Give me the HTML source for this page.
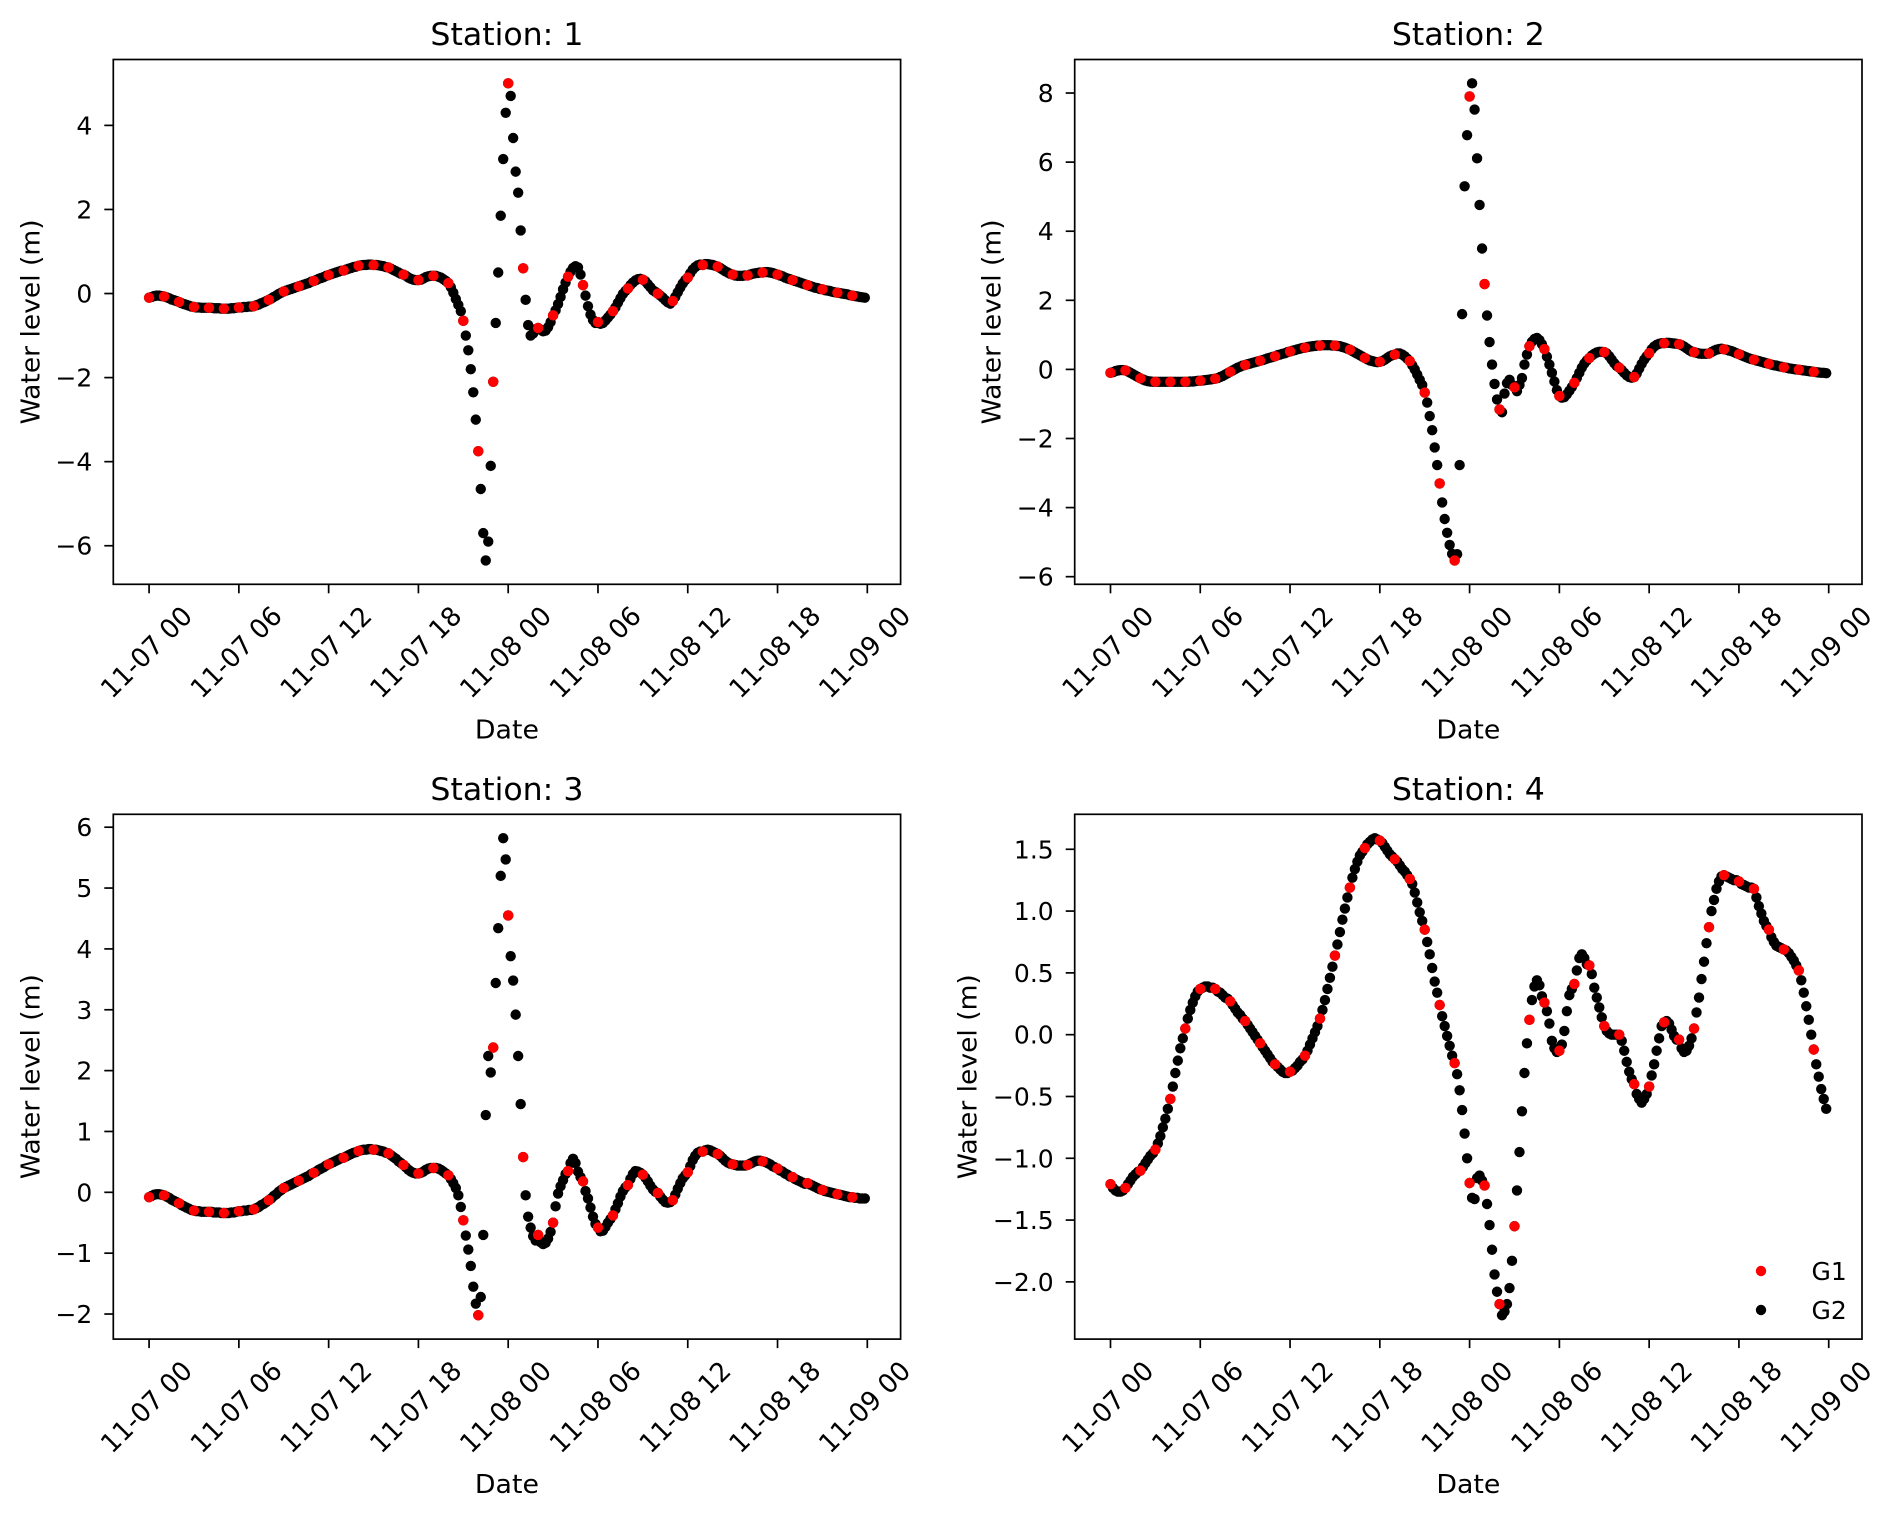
<!DOCTYPE html>
<html>
<head>
<meta charset="utf-8">
<style>
html,body{margin:0;padding:0;background:#fff;}
svg{display:block;}
text{font-family:"DejaVu Sans","Liberation Sans",sans-serif;fill:#000;}
</style>
</head>
<body>
<svg id="fig" xmlns="http://www.w3.org/2000/svg" width="1892" height="1513" viewBox="0 0 1892 1513">
<rect x="0" y="0" width="1892" height="1513" fill="#fff"/>
</svg>
<script>
// ---- shared axis data ----
const xTickHours = [0, 6, 12, 18, 24, 30, 36, 42, 48];
const xTickLabels = ['11-07 00','11-07 06','11-07 12','11-07 18','11-08 00','11-08 06','11-08 12','11-08 18','11-09 00'];
const g2StepHours = 1/6;
const g1StepHours = 1;

// ---- Station 1 ----
const s1G2 = [
-0.10,-0.08,-0.06,-0.05,-0.05,-0.06,
-0.07,-0.09,-0.11,-0.14,-0.16,-0.18,
-0.20,-0.23,-0.25,-0.27,-0.29,-0.31,
-0.32,-0.33,-0.33,-0.34,-0.34,-0.34,
-0.34,-0.34,-0.35,-0.35,-0.35,-0.36,
-0.36,-0.36,-0.36,-0.35,-0.35,-0.34,
-0.33,-0.33,-0.32,-0.32,-0.31,-0.31,
-0.30,-0.28,-0.26,-0.23,-0.21,-0.18,
-0.15,-0.12,-0.08,-0.05,-0.01,0.02,
0.05,0.07,0.09,0.11,0.13,0.15,
0.17,0.19,0.21,0.23,0.25,0.28,
0.30,0.32,0.35,0.37,0.39,0.42,
0.44,0.46,0.48,0.50,0.52,0.54,
0.55,0.57,0.59,0.61,0.63,0.64,
0.66,0.67,0.68,0.68,0.69,0.69,
0.68,0.68,0.67,0.66,0.65,0.63,
0.62,0.59,0.56,0.53,0.50,0.47,
0.45,0.42,0.38,0.35,0.33,0.32,
0.32,0.33,0.36,0.39,0.41,0.42,
0.42,0.42,0.40,0.38,0.34,0.30,
0.25,0.15,0.02,-0.13,-0.27,-0.42,
-0.65,-1.00,-1.35,-1.80,-2.35,-3.00,
-3.75,-4.65,-5.70,-6.35,-5.90,-4.10,
-2.10,-0.70,0.50,1.85,3.20,4.30,
5.00,4.70,3.70,2.90,2.40,1.50,
0.60,-0.15,-0.75,-1.00,-0.95,-0.85,
-0.82,-0.86,-0.90,-0.88,-0.80,-0.68,
-0.52,-0.40,-0.25,-0.08,0.10,0.26,
0.40,0.52,0.61,0.65,0.62,0.45,
0.20,-0.05,-0.30,-0.50,-0.63,-0.70,
-0.68,-0.72,-0.70,-0.64,-0.57,-0.50,
-0.42,-0.33,-0.22,-0.11,-0.01,0.06,
0.12,0.20,0.26,0.31,0.34,0.35,
0.33,0.29,0.22,0.15,0.08,0.04,
0.00,-0.05,-0.10,-0.16,-0.21,-0.24,
-0.18,-0.08,0.03,0.14,0.24,0.32,
0.38,0.48,0.57,0.63,0.67,0.69,
0.68,0.70,0.70,0.69,0.68,0.66,
0.64,0.61,0.57,0.53,0.50,0.47,
0.45,0.43,0.42,0.42,0.42,0.43,
0.43,0.45,0.47,0.48,0.49,0.50,
0.50,0.51,0.51,0.50,0.49,0.47,
0.45,0.43,0.41,0.38,0.36,0.34,
0.32,0.30,0.28,0.26,0.24,0.22,
0.20,0.18,0.16,0.14,0.13,0.11,
0.10,0.08,0.07,0.06,0.04,0.03,
0.02,0.01,0.00,-0.01,-0.02,-0.04,
-0.05,-0.06,-0.07,-0.08,-0.09,-0.10];
const s1G1 = [-0.10,-0.07,-0.20,-0.32,-0.34,-0.36,-0.33,-0.30,-0.15,0.05,0.17,0.30,0.44,0.55,0.66,0.68,0.62,0.45,0.32,0.42,0.25,-0.65,-3.75,-2.10,5.00,0.60,-0.82,-0.52,0.40,0.20,-0.68,-0.42,0.12,0.33,0.00,-0.18,0.38,0.68,0.64,0.45,0.43,0.50,0.45,0.32,0.20,0.10,0.02,-0.05];
const s1YTicks = [-6, -4, -2, 0, 2, 4];

// ---- Station 2 ----
const s2G2 = [
-0.10,-0.08,-0.05,-0.03,-0.02,-0.02,
-0.03,-0.06,-0.10,-0.14,-0.18,-0.22,
-0.26,-0.29,-0.32,-0.34,-0.35,-0.36,
-0.36,-0.36,-0.36,-0.36,-0.36,-0.36,
-0.36,-0.36,-0.36,-0.36,-0.36,-0.36,
-0.36,-0.36,-0.35,-0.35,-0.34,-0.33,
-0.33,-0.32,-0.31,-0.30,-0.29,-0.28,
-0.27,-0.25,-0.22,-0.19,-0.15,-0.11,
-0.07,-0.03,0.01,0.05,0.08,0.11,
0.13,0.15,0.17,0.19,0.21,0.23,
0.25,0.27,0.29,0.32,0.34,0.36,
0.38,0.41,0.43,0.45,0.47,0.50,
0.52,0.54,0.56,0.58,0.60,0.62,
0.63,0.65,0.66,0.67,0.68,0.69,
0.69,0.70,0.70,0.70,0.70,0.69,
0.69,0.68,0.67,0.65,0.63,0.60,
0.57,0.53,0.49,0.45,0.41,0.37,
0.33,0.29,0.26,0.24,0.22,0.21,
0.22,0.24,0.28,0.33,0.38,0.41,
0.43,0.46,0.46,0.43,0.38,0.31,
0.24,0.12,0.00,-0.15,-0.30,-0.45,
-0.67,-0.96,-1.35,-1.76,-2.26,-2.77,
-3.30,-3.85,-4.33,-4.73,-5.08,-5.34,
-5.53,-5.35,-2.77,1.60,5.30,6.78,
7.90,8.28,7.52,6.11,4.76,3.50,
2.47,1.56,0.79,0.14,-0.42,-0.87,
-1.16,-1.24,-0.70,-0.40,-0.30,-0.45,
-0.52,-0.63,-0.45,-0.25,0.14,0.43,
0.67,0.80,0.88,0.91,0.85,0.73,
0.59,0.37,0.14,-0.10,-0.35,-0.60,
-0.77,-0.82,-0.80,-0.72,-0.62,-0.51,
-0.39,-0.25,-0.10,0.05,0.17,0.26,
0.33,0.40,0.45,0.49,0.51,0.51,
0.50,0.46,0.38,0.28,0.18,0.10,
0.05,-0.02,-0.10,-0.17,-0.22,-0.24,
-0.22,-0.12,0.02,0.16,0.28,0.38,
0.47,0.58,0.66,0.71,0.74,0.76,
0.76,0.77,0.77,0.76,0.75,0.74,
0.73,0.70,0.66,0.61,0.56,0.52,
0.50,0.48,0.46,0.45,0.45,0.45,
0.46,0.50,0.54,0.57,0.59,0.60,
0.58,0.57,0.55,0.53,0.50,0.47,
0.44,0.41,0.38,0.35,0.32,0.30,
0.28,0.26,0.24,0.22,0.20,0.18,
0.16,0.14,0.12,0.11,0.09,0.08,
0.06,0.05,0.03,0.02,0.01,0.00,
-0.01,-0.02,-0.03,-0.04,-0.05,-0.06,
-0.07,-0.08,-0.09,-0.10,-0.10,-0.11];
const s2G1 = [-0.10,-0.03,-0.26,-0.36,-0.36,-0.36,-0.33,-0.27,-0.07,0.13,0.25,0.38,0.52,0.63,0.69,0.69,0.57,0.33,0.22,0.43,0.24,-0.67,-3.30,-5.53,7.90,2.47,-1.16,-0.52,0.67,0.59,-0.77,-0.39,0.33,0.50,0.05,-0.22,0.47,0.76,0.73,0.50,0.46,0.58,0.44,0.28,0.16,0.06,-0.01,-0.07];
const s2YTicks = [-6, -4, -2, 0, 2, 4, 6, 8];

// ---- Station 3 ----
const s3G2 = [
-0.08,-0.06,-0.04,-0.03,-0.03,-0.04,
-0.05,-0.07,-0.09,-0.12,-0.14,-0.16,
-0.18,-0.21,-0.23,-0.25,-0.27,-0.29,
-0.30,-0.31,-0.31,-0.32,-0.32,-0.32,
-0.32,-0.32,-0.33,-0.33,-0.33,-0.34,
-0.34,-0.34,-0.34,-0.33,-0.33,-0.32,
-0.31,-0.31,-0.30,-0.30,-0.29,-0.29,
-0.28,-0.26,-0.24,-0.21,-0.19,-0.16,
-0.13,-0.10,-0.06,-0.03,0.01,0.04,
0.07,0.09,0.11,0.13,0.15,0.17,
0.19,0.21,0.23,0.25,0.27,0.30,
0.32,0.34,0.37,0.39,0.41,0.44,
0.46,0.48,0.50,0.52,0.54,0.56,
0.57,0.59,0.61,0.63,0.65,0.66,
0.68,0.69,0.70,0.70,0.71,0.71,
0.70,0.70,0.69,0.68,0.67,0.65,
0.64,0.61,0.58,0.55,0.51,0.48,
0.45,0.41,0.37,0.34,0.32,0.31,
0.31,0.32,0.34,0.37,0.39,0.40,
0.40,0.40,0.39,0.37,0.34,0.31,
0.28,0.22,0.15,0.07,-0.05,-0.24,
-0.46,-0.71,-0.94,-1.21,-1.55,-1.83,
-2.02,-1.72,-0.70,1.27,2.24,1.97,
2.38,3.44,4.34,5.20,5.82,5.47,
4.55,3.88,3.48,2.92,2.24,1.45,
0.58,-0.05,-0.40,-0.58,-0.72,-0.79,
-0.70,-0.82,-0.85,-0.83,-0.76,-0.65,
-0.50,-0.23,-0.02,0.10,0.20,0.30,
0.35,0.48,0.55,0.48,0.34,0.25,
0.18,0.02,-0.10,-0.25,-0.40,-0.52,
-0.58,-0.64,-0.63,-0.57,-0.50,-0.44,
-0.38,-0.28,-0.18,-0.07,0.02,0.08,
0.12,0.22,0.30,0.35,0.34,0.32,
0.29,0.24,0.18,0.11,0.05,0.01,
-0.01,-0.07,-0.12,-0.16,-0.17,-0.16,
-0.13,-0.04,0.06,0.15,0.23,0.28,
0.33,0.43,0.53,0.60,0.65,0.67,
0.67,0.69,0.70,0.69,0.67,0.65,
0.63,0.60,0.56,0.52,0.49,0.47,
0.46,0.45,0.44,0.44,0.44,0.44,
0.45,0.47,0.49,0.51,0.52,0.52,
0.51,0.50,0.48,0.46,0.43,0.41,
0.39,0.36,0.34,0.31,0.29,0.26,
0.25,0.22,0.20,0.18,0.16,0.14,
0.15,0.13,0.11,0.09,0.07,0.05,
0.04,0.02,0.01,0.00,-0.01,-0.02,
-0.03,-0.04,-0.05,-0.06,-0.07,-0.08,
-0.08,-0.09,-0.09,-0.10,-0.10,-0.10];
const s3G1 = [-0.08,-0.05,-0.18,-0.30,-0.32,-0.34,-0.31,-0.28,-0.13,0.07,0.19,0.32,0.46,0.57,0.68,0.70,0.64,0.45,0.31,0.40,0.28,-0.46,-2.02,2.38,4.55,0.58,-0.70,-0.50,0.35,0.18,-0.58,-0.38,0.12,0.29,-0.01,-0.13,0.33,0.67,0.63,0.46,0.45,0.51,0.39,0.25,0.15,0.04,-0.03,-0.08];
const s3YTicks = [-2, -1, 0, 1, 2, 3, 4, 5, 6];

// ---- Station 4 ----
const s4G2 = [
-1.21,-1.24,-1.26,-1.27,-1.27,-1.26,
-1.24,-1.21,-1.18,-1.15,-1.13,-1.11,
-1.10,-1.07,-1.04,-1.01,-0.98,-0.96,
-0.93,-0.88,-0.82,-0.75,-0.68,-0.60,
-0.52,-0.42,-0.31,-0.21,-0.11,-0.03,
0.05,0.13,0.20,0.26,0.31,0.35,
0.37,0.38,0.39,0.39,0.38,0.38,
0.37,0.35,0.34,0.32,0.30,0.29,
0.27,0.24,0.21,0.18,0.16,0.13,
0.11,0.08,0.05,0.02,-0.01,-0.04,
-0.07,-0.10,-0.13,-0.16,-0.19,-0.22,
-0.24,-0.26,-0.28,-0.30,-0.31,-0.31,
-0.30,-0.29,-0.27,-0.25,-0.22,-0.20,
-0.17,-0.13,-0.08,-0.03,0.02,0.07,
0.13,0.20,0.28,0.37,0.46,0.55,
0.64,0.73,0.83,0.93,1.02,1.11,
1.19,1.27,1.34,1.40,1.45,1.48,
1.51,1.54,1.56,1.58,1.59,1.58,
1.57,1.55,1.52,1.49,1.46,1.44,
1.42,1.40,1.37,1.34,1.32,1.29,
1.26,1.22,1.15,1.07,0.99,0.92,
0.85,0.75,0.65,0.54,0.43,0.34,
0.24,0.15,0.07,-0.01,-0.09,-0.17,
-0.23,-0.32,-0.45,-0.61,-0.80,-1.00,
-1.20,-1.32,-1.33,-1.16,-1.14,-1.18,
-1.22,-1.37,-1.54,-1.74,-1.94,-2.08,
-2.18,-2.27,-2.24,-2.18,-2.05,-1.83,
-1.55,-1.26,-0.95,-0.62,-0.31,-0.07,
0.12,0.28,0.39,0.44,0.40,0.31,
0.26,0.19,0.09,-0.05,-0.11,-0.14,
-0.13,-0.08,0.03,0.19,0.32,0.37,
0.41,0.52,0.62,0.65,0.62,0.57,
0.56,0.49,0.38,0.30,0.22,0.14,
0.07,0.03,0.01,0.00,0.00,0.00,
0.00,-0.05,-0.13,-0.22,-0.30,-0.36,
-0.40,-0.48,-0.52,-0.55,-0.52,-0.48,
-0.42,-0.33,-0.24,-0.13,-0.03,0.07,
0.10,0.11,0.09,0.04,-0.01,-0.04,
-0.04,-0.11,-0.14,-0.13,-0.09,-0.03,
0.05,0.18,0.30,0.45,0.59,0.74,
0.87,1.00,1.09,1.18,1.24,1.28,
1.29,1.28,1.27,1.26,1.25,1.25,
1.24,1.22,1.21,1.20,1.19,1.19,
1.18,1.11,1.04,0.98,0.92,0.88,
0.85,0.79,0.75,0.72,0.71,0.70,
0.69,0.68,0.66,0.63,0.60,0.56,
0.52,0.44,0.34,0.23,0.12,0.00,
-0.12,-0.24,-0.34,-0.44,-0.52,-0.60];
const s4G1 = [-1.21,-1.24,-1.10,-0.93,-0.52,0.05,0.37,0.37,0.27,0.11,-0.07,-0.24,-0.30,-0.17,0.13,0.64,1.19,1.51,1.57,1.42,1.26,0.85,0.24,-0.23,-1.20,-1.22,-2.18,-1.55,0.12,0.26,-0.13,0.41,0.56,0.07,0.00,-0.40,-0.42,0.10,-0.04,0.05,0.87,1.29,1.24,1.18,0.85,0.69,0.52,-0.12];
const s4YTicks = [-2.0, -1.5, -1.0, -0.5, 0.0, 0.5, 1.0, 1.5];

const legendLabels = ['G1', 'G2'];

// ---- drawing ----
const NS = 'http://www.w3.org/2000/svg';
const svg = document.getElementById('fig');
function mk(tag, attrs, parent) {
  const e = document.createElementNS(NS, tag);
  for (const k in attrs) e.setAttribute(k, attrs[k]);
  (parent || svg).appendChild(e);
  return e;
}
const AX_W = 787.3, AX_H = 524.8, R = 5.2;

function drawPanel(id, left, top, title, g1, g2, yTicks, decimals, withLegend, ylabOff) {
  const g = mk('g', {});
  
  

  const xMaxData = (g2.length - 1) * g2StepHours;
  const xLo = -0.05 * xMaxData, xHi = xMaxData * 1.05;
  const xs = h => left + (h - xLo) / (xHi - xLo) * AX_W;
  const all = g1.concat(g2);
  const mn = Math.min(...all), mx = Math.max(...all);
  const pad = (mx - mn) * 0.05;
  const yLo = mn - pad, yHi = mx + pad;
  const ys = v => top + AX_H - (v - yLo) / (yHi - yLo) * AX_H;
  const bottom = top + AX_H;

  const t = mk('text', {x: left + AX_W / 2, y: top - 14.5, 'text-anchor': 'middle', 'font-size': 31, textLength: 153, lengthAdjust: 'spacingAndGlyphs'}, g);
  t.textContent = title;
  
  

  const sG2 = mk('g', {}, g);
  
  
  g2.forEach((v, i) => {
    const c = mk('circle', {cx: xs(i * g2StepHours).toFixed(2), cy: ys(v).toFixed(2), r: R, fill: '#000'}, sG2);
    
    
  });
  const sG1 = mk('g', {}, g);
  
  
  g1.forEach((v, i) => {
    const c = mk('circle', {cx: xs(i * g1StepHours).toFixed(2), cy: ys(v).toFixed(2), r: R, fill: '#ff0000'}, sG1);
    
    
  });

  const fr = mk('rect', {x: left, y: top, width: AX_W, height: AX_H, fill: 'none', stroke: '#000', 'stroke-width': 1.7}, g);
  
  

  xTickHours.forEach((h, i) => {
    const x = xs(h);
    const tk = mk('line', {x1: x, y1: bottom, x2: x, y2: bottom + 9, stroke: '#000', 'stroke-width': 1.7}, g);
    
    
    const cx = x - 2.6, cy = bottom + 68;
    const lb = mk('text', {x: cx, y: cy + 9, 'text-anchor': 'middle', 'font-size': 26.5, textLength: 116, lengthAdjust: 'spacingAndGlyphs', transform: 'rotate(-45 ' + cx + ' ' + cy + ')'}, g);
    lb.textContent = xTickLabels[i];
    
    
  });
  yTicks.forEach(v => {
    const y = ys(v);
    const tk = mk('line', {x1: left - 9, y1: y, x2: left, y2: y, stroke: '#000', 'stroke-width': 1.7}, g);
    
    
    const s = (v < 0 ? '\u2212' : '') + Math.abs(v).toFixed(decimals);
    const lb = mk('text', {x: left - 21, y: y + 9, 'text-anchor': 'end', 'font-size': 25}, g);
    lb.textContent = s;
    
    
  });
  const xl = mk('text', {x: left + AX_W / 2, y: bottom + 154, 'text-anchor': 'middle', 'font-size': 26, textLength: 64, lengthAdjust: 'spacingAndGlyphs'}, g);
  xl.textContent = 'Date';
  
  
  const lx = left - ylabOff, ly = top + AX_H / 2;
  const yl = mk('text', {x: lx, y: ly, 'text-anchor': 'middle', 'font-size': 26, textLength: 205, lengthAdjust: 'spacingAndGlyphs', transform: 'rotate(-90 ' + lx + ' ' + ly + ')'}, g);
  yl.textContent = 'Water level (m)';
  
  

  if (withLegend) {
    const lg = mk('g', {}, g);
    
    
    const colors = ['#ff0000', '#000'];
    legendLabels.forEach((name, i) => {
      const yy = 1271 + i * 39;
      const c = mk('circle', {cx: 1761, cy: yy, r: R, fill: colors[i]}, lg);
      
      
      const tx = mk('text', {x: 1811.5, y: yy + 9, 'font-size': 25}, lg);
      tx.textContent = name;
      
      
    });
  }
}

drawPanel(1, 113.3, 59.5, 'Station: 1', s1G1, s1G2, s1YTicks, 0, false, 74);
drawPanel(2, 1074.7, 59.5, 'Station: 2', s2G1, s2G2, s2YTicks, 0, false, 74);
drawPanel(3, 113.3, 814.3, 'Station: 3', s3G1, s3G2, s3YTicks, 0, false, 74);
drawPanel(4, 1074.7, 814.3, 'Station: 4', s4G1, s4G2, s4YTicks, 1, true, 98);
</script>
</body>
</html>
